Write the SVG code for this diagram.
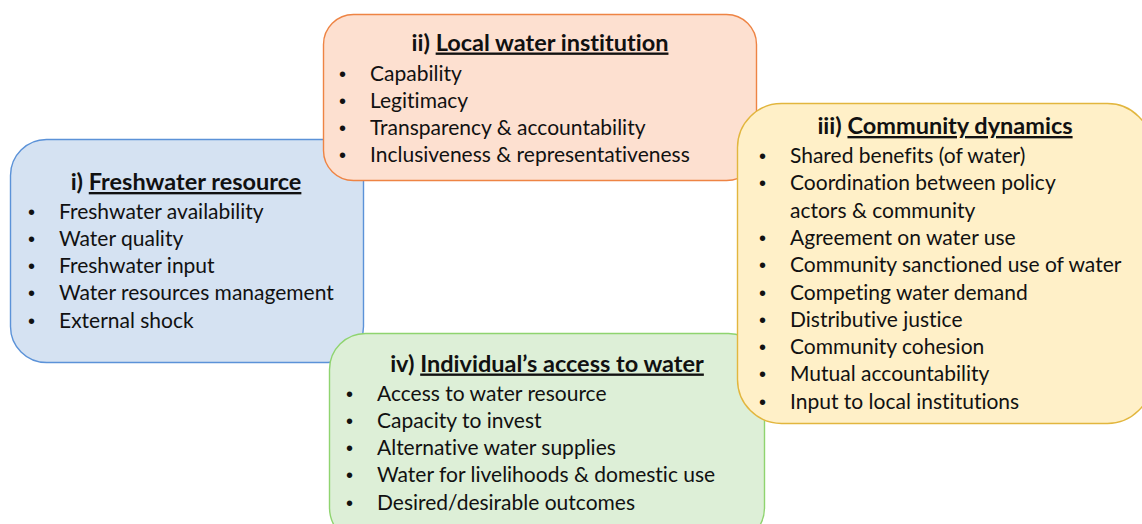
<svg xmlns="http://www.w3.org/2000/svg" width="1142" height="524" viewBox="0 0 1142 524">
<style>
.t{font-family:Lato,"Open Sans","Liberation Sans",sans-serif;font-size:21px;fill:#111;font-variant-ligatures:none}
.h{font-family:Lato,"Open Sans","Liberation Sans",sans-serif;font-size:23.5px;font-weight:bold;fill:#111;text-anchor:middle;font-variant-ligatures:none}
.u{text-decoration:underline}
.b{font-family:"Liberation Sans",sans-serif;font-size:20px;fill:#111}
</style>
<rect width="1142" height="524" fill="#fff"/>
<g id="node-freshwater">
<rect x="10.5" y="139.5" width="353" height="223" rx="36" fill="#d5e2f2" stroke="#5b92d8" stroke-width="1.4"/>
<text class="h" x="186" y="190">i) <tspan class="u">Freshwater resource</tspan></text>
<g class="b"><text x="28" y="218.5">•</text><text x="28" y="245.8">•</text><text x="28" y="273.1">•</text><text x="28" y="300.4">•</text><text x="28" y="327.7">•</text></g>
<g class="t"><text x="59" y="218.5">Freshwater availability</text><text x="59" y="245.8">Water quality</text><text x="59" y="273.1">Freshwater input</text><text x="59" y="300.4">Water resources management</text><text x="59" y="327.7">External shock</text></g>
</g>
<g id="node-institution">
<rect x="323.5" y="14.5" width="433" height="166" rx="30" fill="#fde0d0" stroke="#ee8444" stroke-width="1.4"/>
<text class="h" x="540" y="50.5">ii) <tspan class="u">Local water institution</tspan></text>
<g class="b"><text x="339" y="80.5">•</text><text x="339" y="107.8">•</text><text x="339" y="135.1">•</text><text x="339" y="162.4">•</text></g>
<g class="t"><text x="370" y="80.5">Capability</text><text x="370" y="107.8">Legitimacy</text><text x="370" y="135.1">Transparency &amp; accountability</text><text x="370" y="162.4">Inclusiveness &amp; representativeness</text></g>
</g>
<g id="node-individual">
<rect x="329.5" y="333.5" width="435" height="210" rx="36" fill="#ddefd7" stroke="#8fd46f" stroke-width="1.4"/>
<text class="h" x="547" y="371.5">iv) <tspan class="u">Individual’s access to water</tspan></text>
<g class="b"><text x="346" y="400.5">•</text><text x="346" y="427.8">•</text><text x="346" y="455.1">•</text><text x="346" y="482.4">•</text><text x="346" y="509.7">•</text></g>
<g class="t"><text x="377" y="400.5">Access to water resource</text><text x="377" y="427.8">Capacity to invest</text><text x="377" y="455.1">Alternative water supplies</text><text x="377" y="482.4">Water for livelihoods &amp; domestic use</text><text x="377" y="509.7">Desired/desirable outcomes</text></g>
</g>
<g id="node-community">
<rect x="737.5" y="103.5" width="414" height="320" rx="44" fill="#fff0c8" stroke="#e2b63e" stroke-width="1.4"/>
<text class="h" x="945" y="134">iii) <tspan class="u">Community dynamics</tspan></text>
<g class="b"><text x="759" y="163">•</text><text x="759" y="190.3">•</text><text x="759" y="244.9">•</text><text x="759" y="272.2">•</text><text x="759" y="299.5">•</text><text x="759" y="326.8">•</text><text x="759" y="354.1">•</text><text x="759" y="381.4">•</text><text x="759" y="408.7">•</text></g>
<g class="t"><text x="790" y="163">Shared benefits (of water)</text><text x="790" y="190.3">Coordination between policy</text><text x="790" y="217.6">actors &amp; community</text><text x="790" y="244.9">Agreement on water use</text><text x="790" y="272.2">Community sanctioned use of water</text><text x="790" y="299.5">Competing water demand</text><text x="790" y="326.8">Distributive justice</text><text x="790" y="354.1">Community cohesion</text><text x="790" y="381.4">Mutual accountability</text><text x="790" y="408.7">Input to local institutions</text></g>
</g>
<g id="connectors"></g>
</svg>
